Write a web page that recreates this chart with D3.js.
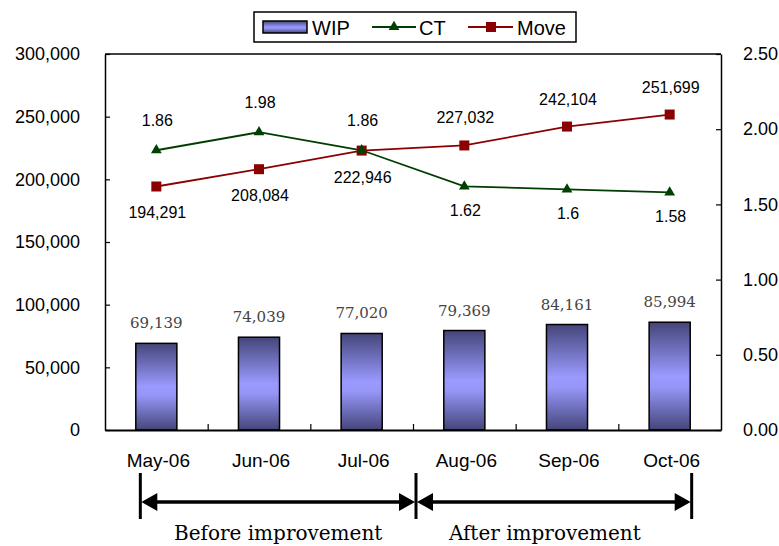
<!DOCTYPE html>
<html><head><meta charset="utf-8">
<script src="https://cdn.jsdelivr.net/npm/d3@7"></script>
<style>body{margin:0;background:#fff}svg{display:block}</style>
</head><body>
<svg id="c" width="779" height="546"></svg>
<script>
const categories = ["May-06","Jun-06","Jul-06","Aug-06","Sep-06","Oct-06"];
const wip = [69139,74039,77020,79369,84161,85994];
const ct = [1.86,1.98,1.86,1.62,1.6,1.58];
const move = [194291,208084,222946,227032,242104,251699];
const leftTicks = [0,50000,100000,150000,200000,250000,300000];
const rightTicks = [0,0.5,1,1.5,2,2.5];
const ctLabelAbove = [true,true,true,false,false,false];
const moveLabelAbove = [false,false,false,true,true,true];
const periods = [{label:"Before improvement", from:0, to:3},{label:"After improvement", from:3, to:6}];

const svg = d3.select("#c");
const L=105, R=721, T=54, B=430;
const x = d3.scaleBand().domain(categories).range([L,R]).paddingInner(0.6).paddingOuter(0.3);
const xb = d3.scaleLinear().domain([0,6]).range([L,R]);
const y = d3.scaleLinear().domain([0,300000]).range([B,T]);
const y2 = d3.scaleLinear().domain([0,2.5]).range([B,T]);
const fmt = d3.format(",");
const cx = c => x(c)+x.bandwidth()/2;
const sans = "Arial,'Liberation Sans',sans-serif";
const serif = "'DejaVu Serif','Liberation Serif',serif";

const defs = svg.append("defs");
const g = defs.append("linearGradient").attr("id","bg").attr("x1",0).attr("y1",0).attr("x2",0).attr("y2",1);
g.append("stop").attr("offset","0%").attr("stop-color","#45457a");
g.append("stop").attr("offset","50%").attr("stop-color","#9a9aff");
g.append("stop").attr("offset","60%").attr("stop-color","#9696f8");
g.append("stop").attr("offset","100%").attr("stop-color","#45457a");

// bars
svg.append("g").selectAll("rect").data(wip).join("rect")
  .attr("x",(d,i)=>x(categories[i])).attr("y",d=>y(d))
  .attr("width",x.bandwidth()).attr("height",d=>B-y(d))
  .attr("fill","url(#bg)").attr("stroke","#000").attr("stroke-width",1.5);
svg.append("g").selectAll("text").data(wip).join("text")
  .attr("x",(d,i)=>cx(categories[i])).attr("y",d=>y(d)-15)
  .attr("text-anchor","middle").attr("font-family",serif)
  .attr("font-size",15).attr("fill","#444").text(d=>fmt(d));

// plot frame top
svg.append("line").attr("x1",L).attr("x2",R).attr("y1",T).attr("y2",T).attr("stroke","#000").attr("stroke-width",1.5);

// axes
const ay = svg.append("g").attr("transform",`translate(${L},0)`)
  .call(d3.axisLeft(y).tickValues(leftTicks).tickFormat(fmt).tickSizeInner(-5).tickSizeOuter(0).tickPadding(25));
const ay2 = svg.append("g").attr("transform",`translate(${R},0)`)
  .call(d3.axisRight(y2).tickValues(rightTicks).tickFormat(d3.format(".2f")).tickSizeInner(-5).tickSizeOuter(0).tickPadding(22));
const ax = svg.append("g").attr("transform",`translate(0,${B})`)
  .call(d3.axisBottom(xb).tickValues([1,2,3,4,5]).tickFormat("").tickSizeInner(-6).tickSizeOuter(0));
svg.append("g").selectAll("text").data(categories).join("text")
  .attr("x",d=>cx(d)+2).attr("y",B+37).attr("text-anchor","middle")
  .attr("font-family",sans).attr("font-size",19).attr("fill","#000").text(d=>d);
[ay,ay2,ax].forEach(a=>{
  a.select(".domain").attr("stroke","#000").attr("stroke-width",a===ax?2:1.5);
  a.selectAll(".tick line").attr("stroke","#000").attr("stroke-width",1.2);
  a.selectAll("text").attr("font-family",sans).attr("font-size",18).attr("fill","#000");
});

// lines
const lineMove = d3.line().x((d,i)=>cx(categories[i])).y(d=>y(d));
const lineCT = d3.line().x((d,i)=>cx(categories[i])).y(d=>y2(d));
svg.append("path").datum(move).attr("d",lineMove).attr("fill","none").attr("stroke","#8b0000").attr("stroke-width",1.8);
svg.append("path").datum(ct).attr("d",lineCT).attr("fill","none").attr("stroke","#003d00").attr("stroke-width",1.8);
svg.append("g").selectAll("rect").data(move).join("rect")
  .attr("x",(d,i)=>cx(categories[i])-5).attr("y",d=>y(d)-5).attr("width",10).attr("height",10)
  .attr("fill","#8b0000");
const tri = d3.symbol().type(d3.symbolTriangle).size(50);
svg.append("g").selectAll("path").data(ct).join("path")
  .attr("d",tri).attr("transform",(d,i)=>`translate(${cx(categories[i])},${y2(d)})`)
  .attr("fill","#004000");

svg.append("g").selectAll("text").data(ct).join("text")
  .attr("x",(d,i)=>cx(categories[i])+1).attr("y",(d,i)=>ctLabelAbove[i]?y2(d)-24:y2(d)+30)
  .attr("text-anchor","middle").attr("font-family",sans).attr("font-size",16).text(d=>d);
svg.append("g").selectAll("text").data(move).join("text")
  .attr("x",(d,i)=>cx(categories[i])+1).attr("y",(d,i)=>moveLabelAbove[i]?y(d)-22:y(d)+32)
  .attr("text-anchor","middle").attr("font-family",sans).attr("font-size",16).text(d=>fmt(d));

// legend
const lg = svg.append("g");
lg.append("rect").attr("x",254).attr("y",12).attr("width",322).attr("height",30).attr("fill","#fff").attr("stroke","#000").attr("stroke-width",1.5);
lg.append("rect").attr("x",263).attr("y",21).attr("width",44).attr("height",12).attr("fill","url(#bg)").attr("stroke","#000").attr("stroke-width",1.5);
lg.append("text").attr("x",312).attr("y",34.5).attr("font-family",sans).attr("font-size",20).text("WIP");
lg.append("line").attr("x1",372).attr("x2",416).attr("y1",27).attr("y2",27).attr("stroke","#003d00").attr("stroke-width",1.8);
lg.append("path").attr("d",tri).attr("transform","translate(394,27)").attr("fill","#004000");
lg.append("text").attr("x",419).attr("y",34.5).attr("font-family",sans).attr("font-size",20).text("CT");
lg.append("line").attr("x1",468).attr("x2",513).attr("y1",27).attr("y2",27).attr("stroke","#8b0000").attr("stroke-width",1.8);
lg.append("rect").attr("x",486).attr("y",22).attr("width",10).attr("height",10).attr("fill","#8b0000");
lg.append("text").attr("x",517).attr("y",34.5).attr("font-family",sans).attr("font-size",20).text("Move");

// period arrows
const bounds = [cx(categories[0])-16, (cx(categories[2])+cx(categories[3]))/2+3, cx(categories[5])+22];
const ag = svg.append("g");
bounds.forEach(b=>ag.append("line").attr("x1",b).attr("x2",b).attr("y1",473).attr("y2",519).attr("stroke","#000").attr("stroke-width",3));
const ay0 = 502;
const labelShift = [0,-9];
periods.forEach((p,k)=>{
  const a = bounds[k], b = bounds[k+1];
  ag.append("line").attr("x1",a+14).attr("x2",b-14).attr("y1",ay0).attr("y2",ay0).attr("stroke","#000").attr("stroke-width",3.5);
  ag.append("path").attr("d",`M${a+1},${ay0}L${a+17},${ay0-9}L${a+17},${ay0+9}Z`).attr("fill","#000");
  ag.append("path").attr("d",`M${b-1},${ay0}L${b-17},${ay0-9}L${b-17},${ay0+9}Z`).attr("fill","#000");
  ag.append("text").attr("x",(a+b)/2+labelShift[k]).attr("y",540).attr("text-anchor","middle")
    .attr("font-family",serif).attr("font-size",20).text(p.label);
});
</script>
</body></html>
